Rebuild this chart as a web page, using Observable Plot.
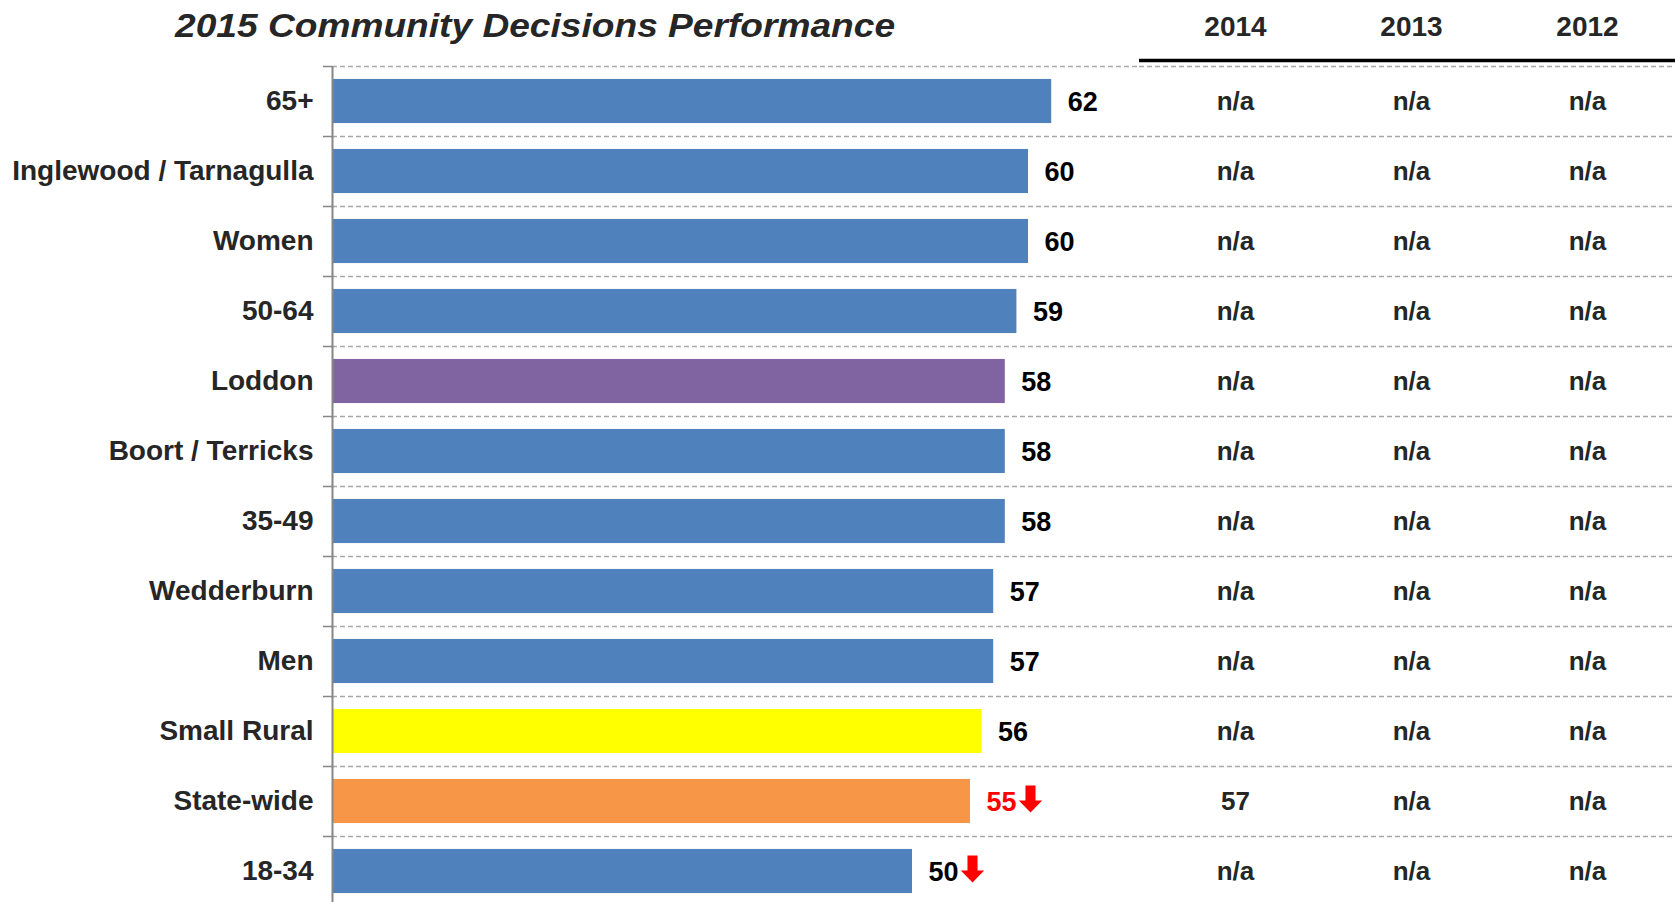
<!DOCTYPE html>
<html><head><meta charset="utf-8">
<script src="https://cdn.jsdelivr.net/npm/d3@7"></script>
<script src="https://cdn.jsdelivr.net/npm/@observablehq/plot@0.6"></script>
<style>
body{margin:0;background:#fff;font-family:"Liberation Sans",Arial,sans-serif;}
#wrap{position:relative;width:1675px;height:902px;display:flex;overflow:hidden;}
#title{position:absolute;left:175px;top:2px;height:48px;line-height:48px;font-size:33px;font-weight:bold;font-style:italic;color:#262626;white-space:nowrap;transform:scaleX(1.125);transform-origin:left center;}
</style></head><body>
<div id="wrap"><div id="title"></div></div>
<script>
// ---- data ----
const chartTitle = "2015 Community Decisions Performance";
const categories = ["65+","Inglewood / Tarnagulla","Women","50-64","Loddon","Boort / Terricks","35-49","Wedderburn","Men","Small Rural","State-wide","18-34"];
const scores2015 = [62,60,60,59,58,58,58,57,57,56,55,50];
const years = ["2014","2013","2012"];
const scores2014 = ["n/a","n/a","n/a","n/a","n/a","n/a","n/a","n/a","n/a","n/a","57","n/a"];
const scores2013 = ["n/a","n/a","n/a","n/a","n/a","n/a","n/a","n/a","n/a","n/a","n/a","n/a"];
const scores2012 = ["n/a","n/a","n/a","n/a","n/a","n/a","n/a","n/a","n/a","n/a","n/a","n/a"];
const significantlyLower = ["State-wide","18-34"];

// ---- styles ----
const barColor = {"Loddon":"#8064A2","Small Rural":"#FFFF00","State-wide":"#F79646"};
const defaultBarColor = "#4F81BD";
const valueColor = {"State-wide":"#FF0000"};
const font = '"Liberation Sans", Arial, sans-serif';
const W = 1675, H = 902, topM = 66, axisX = 332, splitX = 1139, pxPerUnit = 11.6, step = 70;
const xMax = (splitX - axisX) / pxPerUnit;
const dash = {stroke:"#A6A6A6", strokeWidth:1.3, strokeDasharray:"5,3"};
const yScale = {domain: categories, range: [topM, topM + step * categories.length], round: false,
  paddingInner: 0.37, paddingOuter: 0.185, axis: null};

document.getElementById("title").textContent = chartTitle;

const rows = categories.map((c, i) => ({cat: c, score: scores2015[i]}));
const tableRows = [];
categories.forEach((c, i) => [scores2014, scores2013, scores2012].forEach((arr, j) =>
  tableRows.push({cat: c, year: years[j], value: arr[i]})));

const arrowSymbol = {
  draw(ctx, size) {
    const r = Math.sqrt(size / Math.PI);
    const hw = r, sw = 0.43 * r, top = -1.11 * r, hs = 0.17 * r, tip = 1.2 * r;
    ctx.moveTo(-sw, top); ctx.lineTo(sw, top); ctx.lineTo(sw, hs); ctx.lineTo(hw, hs);
    ctx.lineTo(0, tip); ctx.lineTo(-hw, hs); ctx.lineTo(-sw, hs); ctx.closePath();
  }
};

const left = Plot.plot({
  width: splitX, height: H, marginLeft: axisX, marginRight: 0, marginTop: topM, marginBottom: 0,
  style: {fontFamily: font, background: "none", overflow: "visible"},
  x: {domain: [0, xMax], axis: null},
  y: yScale,
  marks: [
    Plot.ruleY(categories, {y: d => d, dy: -step / 2, ...dash}),
    Plot.ruleY(categories, {y: d => d, dy: -step / 2, x1: 0, x2: 0, insetLeft: -9, stroke: "#868686", strokeWidth: 1.5}),
    Plot.barX(rows, {y: "cat", x: "score", fill: d => barColor[d.cat] ?? defaultBarColor}),
    Plot.ruleX([0], {stroke: "#868686", strokeWidth: 2}),
    Plot.axisY({tickSize: 0, tickPadding: 19, fontSize: 28, fontWeight: "bold", color: "#262626", label: null}),
    Plot.text(rows, {y: "cat", x: "score", text: d => String(d.score), textAnchor: "start", dx: 16, dy: 1,
      fontSize: 27, fontWeight: "bold", fill: d => valueColor[d.cat] ?? "#000000"}),
    Plot.dot(rows.filter(d => significantlyLower.includes(d.cat)), {y: "cat", x: "score", dx: 60, dy: -3,
      r: 11.7, symbol: arrowSymbol, fill: "#FF0000", stroke: "none"})
  ]
});

const right = Plot.plot({
  width: W - splitX, height: H, marginLeft: 0, marginRight: 0, marginTop: topM, marginBottom: 0,
  style: {fontFamily: font, background: "none", overflow: "visible"},
  x: {type: "band", domain: years, range: [8, W - splitX], padding: 0, round: false, axis: null},
  y: yScale,
  marks: [
    Plot.ruleY(categories, {y: d => d, dy: -step / 2, ...dash}),
    Plot.ruleY([categories[0]], {y: d => d, dy: -step / 2 - 6, stroke: "#000000", strokeWidth: 3.5}),
    Plot.text(years, {x: d => d, frameAnchor: "top", lineAnchor: "middle", dy: -39, fontSize: 28, fontWeight: "bold", fill: "#262626"}),
    Plot.text(tableRows, {x: "year", y: "cat", text: "value", dy: 0, fontSize: 26, fontWeight: "bold", fill: "#262626"})
  ]
});

document.getElementById("wrap").append(left, right);
</script>
</body></html>
